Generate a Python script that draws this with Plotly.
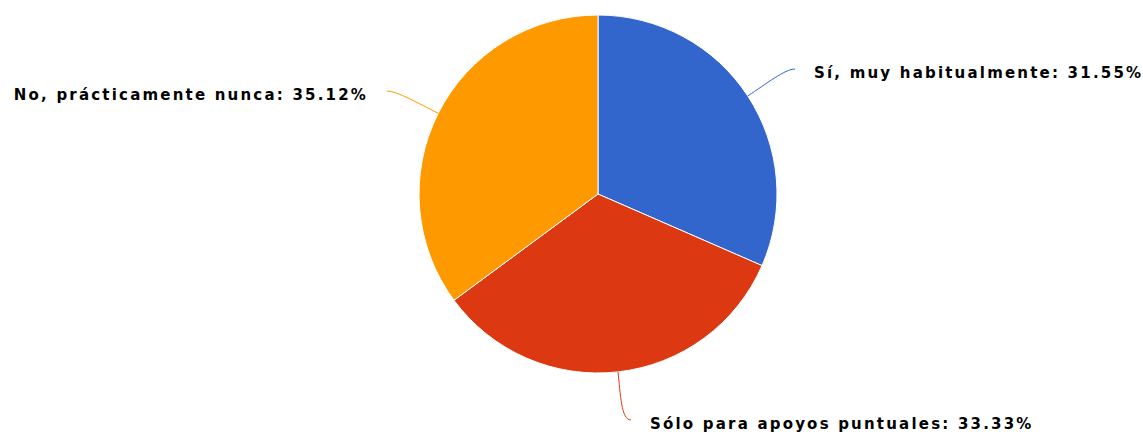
import math
import plotly.graph_objects as go

labels = ["Sí, muy habitualmente", "Sólo para apoyos puntuales", "No, prácticamente nunca"]
values = [31.55, 33.33, 35.12]
colors = ["#3366cc", "#dc3912", "#ff9900"]

W, H = 1143, 432
cx, cy, r = 598, 194, 179
# where each label's connector ends, relative to the pie centre (px)
label_ends = [(197, -125), (33, 226), (-211, -103)]


def px(x, y):
    return x / W, 1 - y / H


fig = go.Figure()
fig.add_trace(go.Pie(
    labels=labels,
    values=values,
    sort=False,
    direction="clockwise",
    rotation=0,
    textinfo="none",
    hoverinfo="label+percent",
    marker=dict(colors=colors, line=dict(color="white", width=1)),
    domain=dict(x=[(cx - r) / W, (cx + r) / W], y=[1 - (cy + r) / H, 1 - (cy - r) / H]),
    showlegend=False,
))

total = sum(values)
start = 0
for lab, val, col, (dx, dy) in zip(labels, values, colors, label_ends):
    mid = (start + val / 2) / total * 2 * math.pi
    start += val
    sx, sy = cx + r * math.sin(mid), cy - r * math.cos(mid)
    c1x, c1y = cx + (r + 22) * math.sin(mid), cy - (r + 22) * math.cos(mid)
    ex, ey = cx + dx, cy + dy
    side = 1 if dx > 0 else -1
    c2x, c2y = ex - side * 10, ey
    p = [px(sx, sy), px(c1x, c1y), px(c2x, c2y), px(ex, ey)]
    fig.add_shape(
        type="path",
        xref="paper", yref="paper",
        path="M {} {} C {} {}, {} {}, {} {}".format(*[v for pt in p for v in pt]),
        line=dict(color=col, width=1),
    )
    ax, ay = px(ex + side * 17, ey + 4)
    fig.add_annotation(
        x=ax, y=ay, xref="paper", yref="paper",
        text="<b>{}: {:.2f}%</b>".format(lab, val),
        showarrow=False,
        xanchor="left" if side > 0 else "right",
        align="left" if side > 0 else "right",
        yanchor="middle",
        font=dict(family="DejaVu Sans", size=15, color="#000000"),
    )

fig.update_layout(
    width=W, height=H,
    margin=dict(l=0, r=0, t=0, b=0),
    paper_bgcolor="white",
    plot_bgcolor="white",
)

# page without body margin, wider letter spacing on the labels
css_js = """
var s = document.createElement('style');
s.textContent = 'body{margin:0;overflow:hidden} .annotation-text{letter-spacing:2.2px}';
document.head.appendChild(s);
"""
fig.write_html("out.html", post_script=css_js, config={"displayModeBar": False})
